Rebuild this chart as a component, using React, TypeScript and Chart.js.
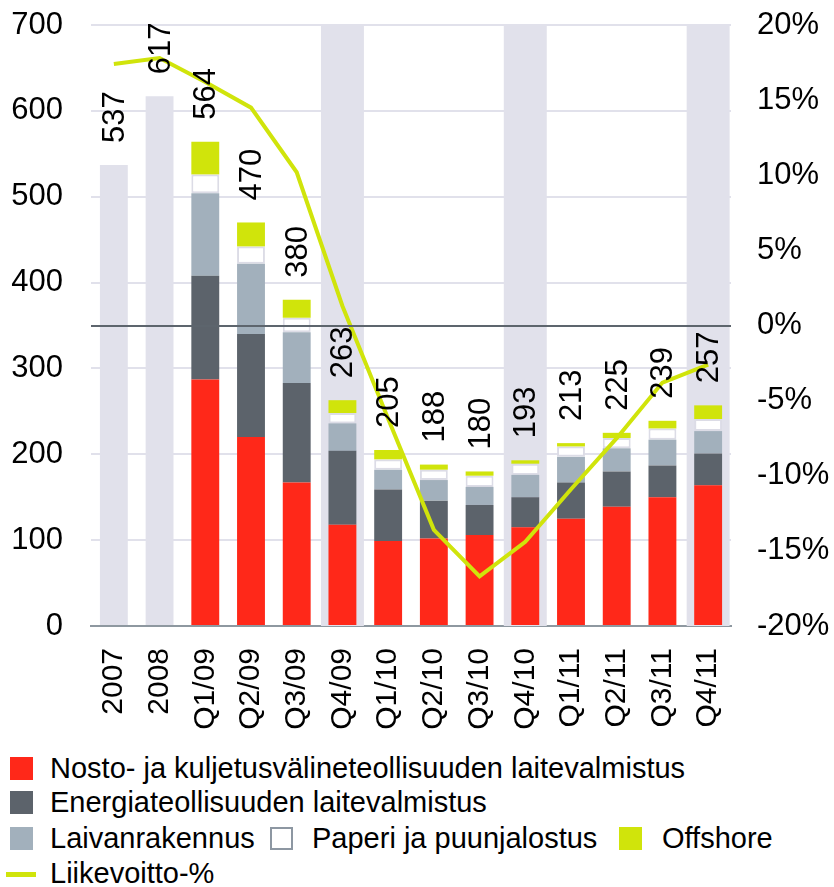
import React, { useEffect, useRef } from 'react';
import { Chart, registerables } from 'chart.js';

Chart.register(...registerables);

const FONT = '"Liberation Sans", Arial, Helvetica, sans-serif';

const categories = ['2007', '2008', 'Q1/09', 'Q2/09', 'Q3/09', 'Q4/09', 'Q1/10', 'Q2/10', 'Q3/10', 'Q4/10', 'Q1/11', 'Q2/11', 'Q3/11', 'Q4/11'];
const annual = [537, 617, null, null, null, null, null, null, null, null, null, null, null, null];
const nosto = [null, null, 287, 220, 167, 118, 99, 102, 106, 115, 125, 139, 150, 164];
const energia = [null, null, 121, 120, 116, 86, 60, 44, 35, 35, 42, 41, 37, 37];
const laiva = [null, null, 96, 82, 59, 32, 23, 24, 21, 26, 30, 27, 30, 26];
const paperi = [null, null, 22, 20, 17, 12, 12, 12, 13, 13, 12, 12, 13, 14];
const offshore = [null, null, 38, 28, 21, 15, 11, 6, 5, 4, 4, 6, 9, 16];
const totals = [537, 617, 564, 470, 380, 263, 205, 188, 180, 193, 213, 225, 239, 257];
const highlight = [null, null, null, null, null, 700, null, null, null, 700, null, null, null, 700];
const margin = [17.4, 17.8, 16.2, 14.5, 10.2, 1.3, -6.2, -13.6, -16.7, -14.4, -10.9, -7.5, -3.8, -2.6];

const seriesNames = [
  'Nosto- ja kuljetusvälineteollisuuden laitevalmistus',
  'Energiateollisuuden laitevalmistus',
  'Laivanrakennus',
  'Paperi ja puunjalostus',
  'Offshore',
  'Liikevoitto-%',
];

const RED = '#ff2819';
const DARK = '#5c636b';
const LIGHT = '#a2b0bc';
const GREEN = '#d0e40b';
const LAV = '#e1e1eb';

const totalsPlugin = {
  id: 'totals',
  afterDraw(chart: any) {
    const ctx = chart.ctx;
    const xs = chart.scales.x;
    const ys = chart.scales.y;
    ctx.save();
    ctx.font = `31px ${FONT}`;
    ctx.fillStyle = '#000';
    ctx.textAlign = 'left';
    ctx.textBaseline = 'middle';
    totals.forEach((t, i) => {
      const px = xs.getPixelForValue(i);
      const py = ys.getPixelForValue(t);
      ctx.save();
      ctx.translate(px + 1.5, py - 22);
      ctx.rotate(-Math.PI / 2);
      ctx.fillText(String(t), 0, 0);
      ctx.restore();
    });
    ctx.restore();
  },
};

function ChartView() {
  const ref = useRef<HTMLCanvasElement | null>(null);
  useEffect(() => {
    if (!ref.current) return;
    Chart.defaults.font.family = FONT;
    const barCommon = { categoryPercentage: 1, barPercentage: 0.61, order: 1, yAxisID: 'y' };
    const chart = new Chart(ref.current, {
      type: 'bar',
      data: {
        labels: categories,
        datasets: [
          {
            type: 'line',
            label: seriesNames[5],
            data: margin,
            yAxisID: 'y1',
            borderColor: GREEN,
            backgroundColor: GREEN,
            borderWidth: 4,
            pointRadius: 0,
            tension: 0,
            order: 0,
          } as any,
          { ...barCommon, label: seriesNames[0], data: nosto, backgroundColor: RED },
          { ...barCommon, label: seriesNames[1], data: energia, backgroundColor: DARK },
          { ...barCommon, label: seriesNames[2], data: laiva, backgroundColor: LIGHT },
          {
            ...barCommon,
            label: seriesNames[3],
            data: paperi,
            backgroundColor: '#ffffff',
            borderColor: '#dcdce6',
            borderWidth: 2,
            borderSkipped: false,
          },
          { ...barCommon, label: seriesNames[4], data: offshore, backgroundColor: GREEN },
          { ...barCommon, label: 'annual', data: annual, backgroundColor: LAV },
          {
            label: 'highlight',
            data: highlight,
            backgroundColor: LAV,
            yAxisID: 'yb',
            grouped: false,
            categoryPercentage: 1,
            barPercentage: 0.94,
            order: 2,
          } as any,
        ],
      },
      options: {
        responsive: false,
        maintainAspectRatio: false,
        animation: false,
        events: [],
        layout: { padding: { top: 25, left: 0, right: 0, bottom: 0 } },
        plugins: { legend: { display: false }, tooltip: { enabled: false } },
        scales: {
          x: {
            stacked: true,
            grid: { display: true, color: 'rgba(0,0,0,0)', drawTicks: false },
            border: { display: true, color: '#8e98a0', width: 2 },
            ticks: {
              color: '#000',
              font: { size: 30, family: FONT },
              minRotation: 90,
              maxRotation: 90,
              padding: 22,
              autoSkip: false,
            },
            afterFit: (s: any) => {
              s.height = 119;
            },
          },
          y: {
            stacked: true,
            position: 'left',
            min: 0,
            max: 700,
            ticks: { stepSize: 100, color: '#000', font: { size: 31, family: FONT }, padding: 28 },
            grid: { color: LAV, lineWidth: 2, drawTicks: false },
            border: { display: false },
            afterFit: (s: any) => {
              s.width = 91;
              s.paddingTop = 0;
              s.paddingBottom = 0;
            },
          },
          y1: {
            position: 'right',
            min: -20,
            max: 20,
            ticks: {
              stepSize: 5,
              color: '#000',
              font: { size: 31, family: FONT },
              padding: 26,
              callback: (v: any) => `${v}%`,
            },
            grid: {
              color: (c: any) => (c.tick && c.tick.value === 0 ? '#5d656d' : 'rgba(0,0,0,0)'),
              lineWidth: 2,
              drawTicks: false,
              z: 1,
            },
            border: { display: false },
            afterFit: (s: any) => {
              s.width = 103;
              s.paddingTop = 0;
              s.paddingBottom = 0;
            },
          },
          yb: { display: false, min: 0, max: 700, stacked: false },
        },
      } as any,
      plugins: [totalsPlugin],
    });
    return () => chart.destroy();
  }, []);
  return <canvas ref={ref} width={834} height={745} style={{ position: 'absolute', left: 0, top: 0, width: 834, height: 745 }} />;
}

const textStyle: React.CSSProperties = {
  position: 'absolute',
  fontFamily: FONT,
  fontSize: 29,
  lineHeight: '34px',
  height: 34,
  color: '#000',
  whiteSpace: 'nowrap',
};

function Box({ left, center, color, border }: { left: number; center: number; color: string; border?: string }) {
  return (
    <div
      style={{
        position: 'absolute',
        left,
        top: center - 11.5,
        width: 23,
        height: 23,
        boxSizing: 'border-box',
        background: color,
        border: border ? `2px solid ${border}` : 'none',
      }}
    />
  );
}

function Text({ left, center, children }: { left: number; center: number; children: React.ReactNode }) {
  return <div style={{ ...textStyle, left, top: center - 17 }}>{children}</div>;
}

function Legend() {
  const r1 = 768;
  const r2 = 802;
  const r3 = 838;
  const r4 = 872.5;
  return (
    <>
      <Box left={10} center={r1} color={RED} />
      <Text left={50} center={r1}>{seriesNames[0]}</Text>
      <Box left={10} center={r2} color={DARK} />
      <Text left={50} center={r2}>{seriesNames[1]}</Text>
      <Box left={10} center={r3} color={LIGHT} />
      <Text left={50} center={r3}>{seriesNames[2]}</Text>
      <Box left={270} center={r3} color="#fff" border="#8d97a2" />
      <Text left={312} center={r3}>{seriesNames[3]}</Text>
      <Box left={619} center={r3} color={GREEN} />
      <Text left={662} center={r3}>{seriesNames[4]}</Text>
      <div style={{ position: 'absolute', left: 6, top: 872, width: 30, height: 5, background: GREEN }} />
      <Text left={50} center={r4}>{seriesNames[5]}</Text>
    </>
  );
}

export default function App() {
  return (
    <div style={{ position: 'absolute', left: 0, top: 0, width: 834, height: 887, overflow: 'hidden', background: '#fff' }}>
      <ChartView />
      <Legend />
    </div>
  );
}
